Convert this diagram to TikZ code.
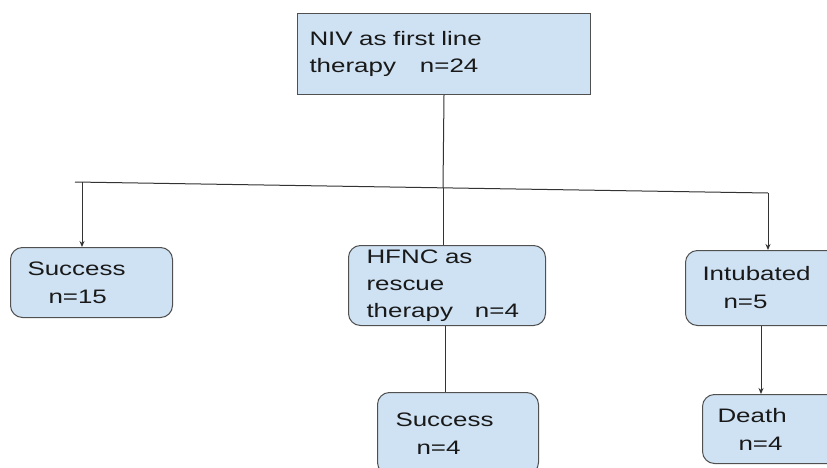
\documentclass[tikz,border=0pt]{standalone}
\usepackage{fontspec}
\setmainfont{Liberation Sans}[FakeStretch=1.33]
\usepackage{tikz}
\usetikzlibrary{positioning,calc,arrows.meta}
\definecolor{BoxBlue}{RGB}{207,226,243}
\definecolor{EdgeGrey}{RGB}{80,80,80}
\newcommand{\indentn}{\hspace*{21pt}}

\begin{document}
\begin{tikzpicture}[
    x=1pt, y=-1pt,
    box/.style={rectangle,draw=EdgeGrey,fill=BoxBlue,line width=1pt,rounded corners=12pt,anchor=north west,align=left,text=black!90,font=\fontsize{19.5}{28}\selectfont},
    line/.style={line width=1pt,draw=black!80},
    arrow/.style={line,->,>={Stealth[length=6pt,width=5pt]}}
]
\useasboundingbox (0,0) rectangle (827,468);
\clip (0,0) rectangle (827,468);

\node[box,sharp corners,text width=269pt,inner xsep=12pt,minimum height=81pt,font=\fontsize{19.5}{29}\selectfont] (niv) at (297,13) {\raisebox{-2pt}{NIV as first line}\\therapy\hspace{24pt}n=24};

\node[box,text width=128pt,inner xsep=17pt,minimum height=70pt] (succA) at (10,247) {Success\\\indentn n=15};
\node[box,text width=161pt,inner xsep=18pt,minimum height=80pt,font=\fontsize{19.5}{27}\selectfont] (hfnc) at (348,245) {HFNC as\\rescue\\therapy\hspace{22pt}n=4};
\node[box,text width=131pt,inner xsep=17pt,minimum height=75pt] (intub) at (685,250) {Intubated\\\indentn n=5};

\node[box,text width=125pt,inner xsep=18pt,minimum height=82pt] (succB) at (377,392) {Success\\\indentn n=4};
\node[box,text width=130pt,inner xsep=15pt,minimum height=69pt] (death) at (702,394) {Death\\\indentn n=4};

\coordinate (busL) at (75,182);
\coordinate (busR) at (768,193);
\coordinate (busA) at (82,182.1);
\coordinate (busM) at (443,187.8);

\draw[line] (busL) -- (busR);
\draw[line] (niv.south) -- (busM);
\draw[arrow] (busA) -- (busA |- succA.north);
\draw[line] (busM) -- (busM |- hfnc.north);
\draw[arrow] (busR) -- (busR |- intub.north);
\draw[line] ([xshift=-2pt]hfnc.south) -- ([xshift=-2pt]hfnc.south |- succB.north);
\draw[arrow] ([xshift=-7pt]intub.south) -- ([xshift=-7pt]intub.south |- death.north);
\end{tikzpicture}
\end{document}
